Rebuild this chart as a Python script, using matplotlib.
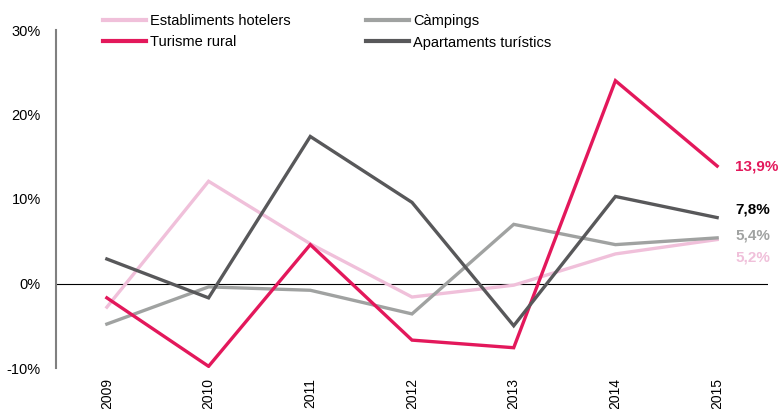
import matplotlib
matplotlib.use("Agg")
import matplotlib.pyplot as plt

plt.rcParams['font.family'] = ['Liberation Sans', 'DejaVu Sans']

years = ["2009", "2010", "2011", "2012", "2013", "2014", "2015"]
hotels = [-2.8, 12.1, 4.7, -1.6, -0.2, 3.5, 5.2]
campings = [-4.8, -0.4, -0.8, -3.6, 7.0, 4.6, 5.4]
rural = [-1.7, -9.8, 4.6, -6.7, -7.6, 24.0, 13.9]
apartments = [2.9, -1.7, 17.4, 9.6, -5.0, 10.3, 7.8]

names = ["Establiments hotelers", "Càmpings", "Turisme rural", "Apartaments turístics"]
colors = ["#F0C0DA", "#A0A2A1", "#E3185B", "#58585A"]
series = [hotels, campings, rural, apartments]
end_labels = ["5,2%", "5,4%", "13,9%", "7,8%"]
label_colors = ["#F0C0DA", "#A0A2A1", "#E3185B", "#000000"]
label_offsets = [-2.1, 0.3, 0.0, 1.0]

fig = plt.figure(figsize=(7.8, 4.09), dpi=100)
ax = fig.add_axes([56/780, 1-368/409, (768-56)/780, (368-30)/409])

x = list(range(len(years)))
lines = []
for s, c, n in zip(series, colors, names):
    ln, = ax.plot(x, s, color=c, lw=2.4, label=n, solid_joinstyle='miter')
    lines.append(ln)

ax.axhline(0, color='black', lw=0.8, zorder=0)

ax.set_xlim(-0.5, 6.5)
ax.set_ylim(-10, 30)
ax.set_yticks([-10, 0, 10, 20, 30])
ax.set_yticklabels(["-10%", "0%", "10%", "20%", "30%"], fontsize=10.5)
ax.set_xticks(x)
ax.set_xticklabels(years, rotation=90, fontsize=10)
ax.tick_params(axis='x', length=0, pad=7)
ax.tick_params(axis='y', length=0, pad=11)

for sp in ['top', 'right', 'bottom']:
    ax.spines[sp].set_visible(False)
ax.spines['left'].set_color('#808080')
ax.spines['left'].set_linewidth(1.5)

for s, lab, lc, off in zip(series, end_labels, label_colors, label_offsets):
    ax.annotate(lab, xy=(6, s[-1] + off), xytext=(13, 0), textcoords='offset points',
                color=lc, fontsize=11, fontweight='bold', va='center', ha='left',
                annotation_clip=False)

# legend filled column-wise: order so rows read hotels/campings, rural/apartments
order = [0, 2, 1, 3]
leg = fig.legend(handles=[lines[i] for i in order],
                 labels=[names[i] for i in order], ncol=2, loc='upper left',
                 bbox_to_anchor=(93/780, 1 - 4/409), frameon=False, fontsize=10.5,
                 handlelength=2.95, handletextpad=0.27, columnspacing=5.15,
                 labelspacing=0.5, borderaxespad=0.3)
for h in leg.legend_handles:
    h.set_linewidth(3)

fig.savefig("out.png", dpi=100)
